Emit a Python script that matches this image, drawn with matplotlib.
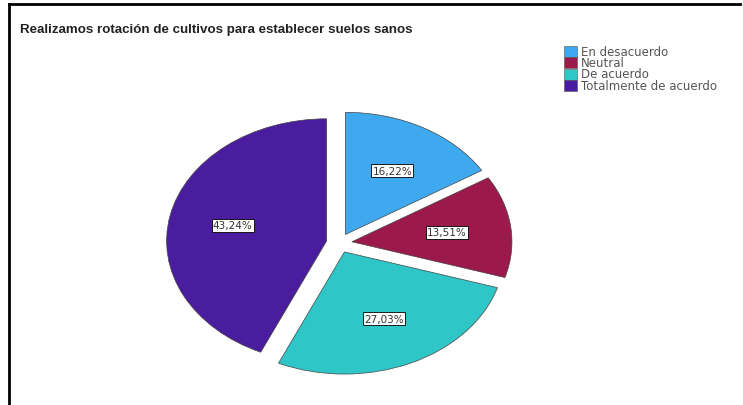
import matplotlib.pyplot as plt
from matplotlib.lines import Line2D
from matplotlib.patches import Rectangle

plt.rcParams['font.family'] = ['DejaVu Sans']

# response shares for the crop rotation question
categories = ['En desacuerdo', 'Neutral', 'De acuerdo', 'Totalmente de acuerdo']
percentages = [16.22, 13.51, 27.03, 43.24]
colors = ['#3fa9ef', '#9b1a4b', '#2fc6c8', '#4a1d9e']

W, H = 743, 406
fig = plt.figure(figsize=(W / 100, H / 100), dpi=100)

# axes sized so the pie is drawn as a flattened ellipse
ax = fig.add_axes([0.198, 0.038, 0.517, 0.722])
wedges, texts, autotexts = ax.pie(
    percentages,
    colors=colors,
    startangle=90,
    counterclock=False,
    explode=[0.08] * len(percentages),
    autopct=lambda p: f'{p:.2f}%'.replace('.', ','),
    pctdistance=0.6,
    wedgeprops=dict(edgecolor='#444444', linewidth=0.5),
    textprops=dict(fontsize=7.5, color='#333333'),
)
for t in autotexts:
    t.set_bbox(dict(boxstyle='square,pad=0.12', facecolor='white',
                    edgecolor='black', linewidth=0.6))
ax.set_aspect('auto')
ax.set_xlim(-1.2, 1.2)
ax.set_ylim(-1.2, 1.2)
ax.axis('off')

fig.text(20 / W, 1 - 30 / H, 'Realizamos rotación de cultivos para establecer suelos sanos',
         fontsize=9.6, fontweight='bold', color='#222222', va='center',
         family='Liberation Sans')

# legend: small colour squares with the category names
for i, (name, c) in enumerate(zip(categories, colors)):
    yc = 52 + i * 11.5
    fig.add_artist(Rectangle((564 / W, 1 - (yc + 5.5) / H), 13 / W, 11 / H,
                             facecolor=c, edgecolor='#555555', linewidth=0.4,
                             transform=fig.transFigure))
    fig.text(581 / W, 1 - yc / H, name, fontsize=8.5, color='#555555',
             va='center', ha='left')

# partial frame on the top and left edges
fig.add_artist(Line2D([9 / W, 740 / W], [1 - 5 / H, 1 - 5 / H],
                      color='black', linewidth=2, transform=fig.transFigure))
fig.add_artist(Line2D([9 / W, 9 / W], [0, 1 - 5 / H],
                      color='black', linewidth=2, transform=fig.transFigure))

fig.savefig('out.png', dpi=100)
